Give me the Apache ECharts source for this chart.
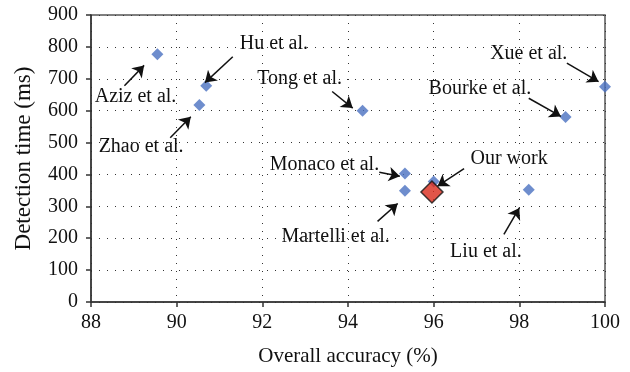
<!DOCTYPE html>
<html>
<head>
<meta charset="utf-8">
<script src="https://cdn.jsdelivr.net/npm/echarts@6/dist/echarts.min.js"></script>
<style>html,body{margin:0;padding:0;background:#fff}#c{width:630px;height:372px}</style>
</head>
<body>
<div id="c"></div>
<script>
// Data: other methods (accuracy %, detection time ms)
const methodNames = ['Aziz et al.', 'Hu et al.', 'Zhao et al.', 'Tong et al.', 'Xue et al.', 'Bourke et al.', 'Monaco et al.', 'Martelli et al.', 'Liu et al.', 'Our work (ref)'];
const methodAccuracy = [89.55, 90.69, 90.53, 94.34, 100.0, 99.08, 95.33, 95.33, 98.22, 96.0];
const methodTime = [777, 678, 618, 600, 675, 580, 403, 349, 352, 378];
// Our work
const ourAccuracy = [95.96];
const ourTime = [345];
// Annotations (data coordinates)
const labelText = ['Aziz et al.', 'Hu et al.', 'Zhao et al.', 'Tong et al.', 'Xue et al.', 'Bourke et al.', 'Monaco et al.', 'Our work', 'Martelli et al.', 'Liu et al.'];
const labelX = [89.04, 92.27, 89.17, 92.87, 98.22, 97.08, 93.45, 97.76, 93.71, 97.22];
const labelY = [644, 809, 487, 700, 778, 668, 431, 450, 205, 159];
const arrowFromX = [88.78, 91.31, 89.85, 93.63, 99.11, 98.22, 94.73, 96.71, 94.69, 97.64];
const arrowFromY = [678, 769, 515, 660, 749, 639, 407, 418, 253, 212];
const arrowToX = [89.24, 90.66, 90.33, 94.11, 99.85, 98.97, 95.21, 96.09, 95.16, 98.0];
const arrowToY = [742, 688, 581, 608, 691, 582, 394, 363, 309, 295];
// Axis ticks
const xMin = 88, xMax = 100, xStep = 2;
const yMin = 0, yMax = 900, yStep = 100;

const FONT = 'Liberation Serif';
const TXT = '#111';
const chart = echarts.init(document.getElementById('c'));
chart.setOption({
  animation: false,
  backgroundColor: '#fff',
  grid: { left: 91, right: 25, top: 15, bottom: 69, show: true, borderColor: '#555', borderWidth: 1.5, backgroundColor: 'transparent' },
  xAxis: {
    type: 'value', min: xMin, max: xMax, interval: xStep,
    name: 'Overall accuracy (%)', nameLocation: 'middle', nameGap: 44,
    nameTextStyle: { fontFamily: FONT, fontSize: 21, color: TXT },
    axisLine: { lineStyle: { color: '#333', width: 1.5 } },
    axisTick: { show: true, inside: false, length: 5, lineStyle: { color: '#333', width: 1.5 } },
    axisLabel: { fontFamily: FONT, fontSize: 20, color: TXT, margin: 11 },
    splitLine: { show: true, lineStyle: { color: '#333', type: [1, 7], width: 1 } }
  },
  yAxis: {
    type: 'value', min: yMin, max: yMax, interval: yStep,
    name: 'Detection time (ms)', nameLocation: 'middle', nameGap: 56,
    nameTextStyle: { fontFamily: FONT, fontSize: 23, color: TXT },
    axisLine: { show: true, lineStyle: { color: '#333', width: 1.5 } },
    axisTick: { show: true, inside: false, length: 5, lineStyle: { color: '#333', width: 1.5 } },
    axisLabel: { fontFamily: FONT, fontSize: 20, color: TXT, margin: 13 },
    splitLine: { show: true, lineStyle: { color: '#333', type: [1, 7], width: 1 } }
  },
  series: [
    {
      type: 'scatter', symbol: 'diamond', symbolSize: 12,
      itemStyle: { color: '#4A70C0' },
      data: methodAccuracy.map((x, i) => ({ name: methodNames[i], value: [x, methodTime[i]] })),
      z: 3
    },
    {
      type: 'scatter', symbol: 'diamond', symbolSize: 22,
      itemStyle: { color: '#DA2A1C', borderColor: '#111', borderWidth: 1.5 },
      data: ourAccuracy.map((x, i) => [x, ourTime[i]]),
      z: 4
    },
    {
      type: 'lines', coordinateSystem: 'cartesian2d',
      symbol: ['none', 'arrow'], symbolSize: 11,
      lineStyle: { color: '#111', width: 1.5, opacity: 1 },
      data: arrowFromX.map((x, i) => ({ coords: [[x, arrowFromY[i]], [arrowToX[i], arrowToY[i]]] })),
      z: 5
    },
    {
      type: 'scatter', symbol: 'circle', symbolSize: 1,
      itemStyle: { color: 'rgba(0,0,0,0)' },
      label: { show: true, position: 'inside', formatter: p => p.name, fontFamily: FONT, fontSize: 20, color: TXT, textBorderWidth: 0, opacity: 1 },
      data: labelX.map((x, i) => ({ name: labelText[i], value: [x, labelY[i]] })),
      z: 6
    }
  ]
});
</script>
</body>
</html>
